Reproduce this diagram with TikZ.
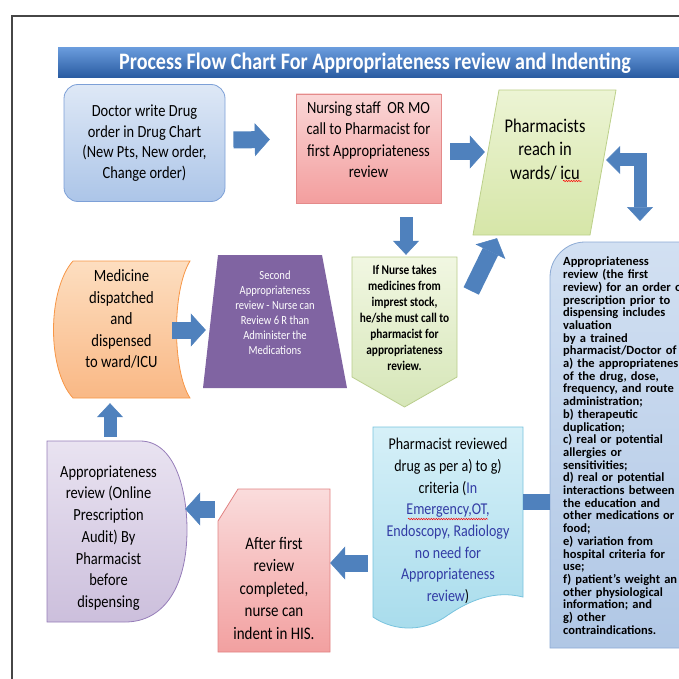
\documentclass[tikz,border=0pt]{standalone}
\usepackage{fontspec}
\setmainfont{Carlito}[FakeStretch=0.85]
\newfontfamily\critfont{Carlito}
\usetikzlibrary{arrows.meta,decorations.pathmorphing}
\pgfdeclarelayer{background}
\pgfsetlayers{background,main}
\definecolor{framegray}{RGB}{70,70,70}
\definecolor{barTop}{RGB}{105,155,220}
\definecolor{barBot}{RGB}{40,90,160}
\definecolor{docTop}{RGB}{222,232,246}
\definecolor{docBot}{RGB}{172,197,232}
\definecolor{docEdge}{RGB}{125,160,215}
\definecolor{nurseTop}{RGB}{250,214,214}
\definecolor{nurseBot}{RGB}{243,158,158}
\definecolor{nurseEdge}{RGB}{228,138,138}
\definecolor{pharmTop}{RGB}{236,244,212}
\definecolor{pharmBot}{RGB}{214,230,168}
\definecolor{pharmEdge}{RGB}{188,208,138}
\definecolor{critTop}{RGB}{210,224,242}
\definecolor{critBot}{RGB}{176,199,229}
\definecolor{critEdge}{RGB}{140,170,212}
\definecolor{stockTop}{RGB}{241,247,226}
\definecolor{stockBot}{RGB}{214,230,184}
\definecolor{stockEdge}{RGB}{185,205,140}
\definecolor{secondFill}{RGB}{128,100,162}
\definecolor{dispTop}{RGB}{253,222,192}
\definecolor{dispBot}{RGB}{249,184,133}
\definecolor{dispEdge}{RGB}{247,150,70}
\definecolor{auditTop}{RGB}{233,227,241}
\definecolor{auditBot}{RGB}{204,191,220}
\definecolor{auditEdge}{RGB}{150,125,185}
\definecolor{indentTop}{RGB}{250,220,220}
\definecolor{indentBot}{RGB}{242,160,160}
\definecolor{indentEdge}{RGB}{225,130,130}
\definecolor{revTop}{RGB}{214,240,248}
\definecolor{revBot}{RGB}{168,220,236}
\definecolor{revEdge}{RGB}{120,195,222}
\definecolor{revText}{RGB}{50,60,165}
\definecolor{arrowBlue}{RGB}{79,129,189}
\tikzstyle{boxtext}=[align=center, inner sep=0pt]
\tikzstyle{title text}=[boxtext, text=white, font={\fontsize{23.6}{26}\selectfont\bfseries}]
\tikzstyle{docbox}=[boxtext, draw=docEdge, line width=0.8pt, rounded corners=14pt, top color=docTop, bottom color=docBot, minimum width=161pt, minimum height=117pt, font={\fontsize{17}{20.5}\selectfont}]
\tikzstyle{flow}=[draw=arrowBlue, line width=17pt, -{Triangle[length=15pt,width=33pt,line width=0.5pt]}]
\tikzstyle{small flow}=[draw=arrowBlue, line width=13pt, -{Triangle[length=14pt,width=26pt,line width=0.5pt]}]
\tikzstyle{flow bar}=[draw=arrowBlue, line width=16pt]
\tikzstyle{spell}=[draw=red, line width=0.5pt, decorate, decoration={snake, amplitude=0.7pt, segment length=2.5pt}]

\begin{document}
\begin{tikzpicture}[x=1pt,y=-1pt]
    \useasboundingbox (0,0) rectangle (678,679);
    % frame and title bar
    \draw[framegray, line width=1.6pt] (12,690) -- (12,16) -- (690,16);
    \shade[top color=barTop, bottom color=barBot] (58,48) rectangle (690,78);
    \node[title text] (title) at (375,63) {Process Flow Chart For Appropriateness review and Indenting};

    % the boxes
    \node[docbox] (doc) at (144.5,143) {Doctor write Drug\\order in Drug Chart\\(New Pts, New order,\\Change order)};
    \node[boxtext, minimum width=145pt, minimum height=109pt, font={\fontsize{17}{21.5}\selectfont}] (nurse) at (368.5,139.5) {Nursing staff~ OR MO\\call to Pharmacist for\\first Appropriateness\\review};
    \node[boxtext, minimum width=114pt, minimum height=145pt, font={\fontsize{19.4}{23.5}\selectfont}] (pharm) at (545,149.5) {Pharmacists\\reach in\\wards/ icu};
    \node[boxtext, anchor=north west, align=left, text width=135pt, font={\critfont\fontsize{12.5}{12.7}\selectfont\bfseries}] (crit) at (563,257) {Appropriateness\\review (the first\\review) for an order o\\prescription prior to\\dispensing includes\\valuation\\by a trained\\pharmacist/Doctor of\\a) the appropriatenes\\of the drug, dose,\\frequency, and route\\administration;\\b) therapeutic\\duplication;\\c) real or potential\\allergies or\\sensitivities;\\d) real or potential\\interactions between\\the education and\\other medications or\\food;\\e) variation from\\hospital criteria for\\use;\\f) patient’s weight an\\other physiological\\information; and\\g) other\\contraindications.};
    \node[boxtext, minimum width=105pt, minimum height=120pt, font={\fontsize{13.3}{16}\selectfont\bfseries}] (stock) at (404.5,318) {If Nurse takes\\medicines from\\imprest stock,\\he/she must call to\\pharmacist for\\appropriateness\\review.};
    \node[boxtext, text=white, minimum width=131pt, minimum height=133pt, font={\fontsize{12.4}{15}\selectfont}] (second) at (275,312.5) {Second\\Appropriateness\\review - Nurse can\\Review 6 R than\\Administer the\\Medications};
    \node[boxtext, minimum width=137pt, minimum height=137pt, font={\fontsize{17.2}{21.5}\selectfont}] (disp) at (121.5,319) {Medicine\\dispatched\\and\\dispensed\\to ward/ICU};
    \node[boxtext, minimum width=123pt, minimum height=181pt, font={\fontsize{17}{21.7}\selectfont}] (audit) at (108.5,538) {Appropriateness\\review (Online\\Prescription\\Audit) By\\Pharmacist\\before\\dispensing};
    \node[boxtext, minimum width=112pt, minimum height=163pt, font={\fontsize{17.6}{22.5}\selectfont}] (indent) at (274,588) {After first\\review\\completed,\\nurse can\\indent in HIS.};
    \node[boxtext, minimum width=150pt, minimum height=183pt, font={\fontsize{16.5}{21.7}\selectfont}] (reviewed) at (448,521) {Pharmacist reviewed\\drug as per a) to g)\\criteria ({\color{revText}In}\\{\color{revText}Emergency,OT,}\\{\color{revText}Endoscopy, Radiology}\\{\color{revText}no need for}\\{\color{revText}Appropriateness}\\{\color{revText}review})};

    % outlines of the boxes
    \begin{pgfonlayer}{background}
        \shadedraw[top color=nurseTop, bottom color=nurseBot, draw=nurseEdge, line width=0.8pt] (296,94) rectangle (441,203);
        \shadedraw[top color=pharmTop, bottom color=pharmBot, draw=pharmEdge, line width=0.8pt] (499,90) -- (616,90) -- (590,235) -- (473,235) -- cycle;
        \shadedraw[top color=critTop, bottom color=critBot, draw=critEdge, line width=0.8pt] (550,648) -- (550,277) .. controls (550,258) and (566,242) .. (585,242) -- (690,242) -- (690,648) -- cycle;
        \shadedraw[top color=stockTop, bottom color=stockBot, draw=stockEdge, line width=0.8pt] (352,257) -- (457,257) -- (457,377) -- (404.5,407) -- (352,377) -- cycle;
        \fill[secondFill] (218,255) -- (322,255) -- (347,388) -- (203,388) -- cycle;
        \shadedraw[top color=dispTop, bottom color=dispBot, draw=dispEdge, line width=0.8pt] (73,261) -- (190,261) .. controls (172,290) and (172,370) .. (190,398) -- (73,398) .. controls (47,370) and (47,290) .. (73,261);
        \shadedraw[top color=auditTop, bottom color=auditBot, draw=auditEdge, line width=0.8pt] (47,441) -- (140,441) .. controls (175,441) and (187,490) .. (187,530) .. controls (187,585) and (165,622) .. (125,622) -- (47,622) -- cycle;
        \shadedraw[top color=indentTop, bottom color=indentBot, draw=indentEdge, line width=0.8pt] (238,489) -- (330,489) -- (330,652) -- (218,652) -- (218,521) -- cycle;
        \shadedraw[top color=revTop, bottom color=revBot, draw=revEdge, line width=0.8pt] (373,427) -- (523,427) -- (523,597) .. controls (495,590) and (470,600) .. (448,615) .. controls (425,632) and (395,632) .. (373,617) -- cycle;
    \end{pgfonlayer}

    % spell check marks
    \draw[spell] ([xshift=18pt,yshift=-31.5pt]pharm.center) -- ([xshift=37pt,yshift=-31.5pt]pharm.center);
    \draw[spell] ([xshift=-40pt,yshift=2pt]reviewed.center) -- ([xshift=40pt,yshift=2pt]reviewed.center);

    % block arrows between the boxes
    \path[flow] ([xshift=8pt,yshift=3pt]doc.east) -- ([xshift=-26pt]nurse.west);
    \path[flow] ([xshift=9pt,yshift=-12.5pt]nurse.east) -- ([xshift=-3pt,yshift=-2.5pt]pharm.west);
    \path[flow] ([xshift=14pt,yshift=27pt]stock.east) -- ([xshift=-48pt,yshift=-16pt]pharm.south);
    \path[flow] ([xshift=-18pt,yshift=-11pt]disp.east) -- ([xshift=-3.5pt,yshift=-17.5pt]second.west);
    \path[flow] ([xshift=-3pt,yshift=79pt]indent.west) -- ([xshift=15pt,yshift=29pt]audit.east);
    \path[flow] ([xshift=-5pt,yshift=-42pt]reviewed.west) -- ([yshift=25pt]indent.east);
    \path[small flow] ([xshift=37.5pt,yshift=-23pt]nurse.south) -- ([xshift=1.5pt,yshift=3pt]stock.north);
    \path[small flow] ([xshift=1.5pt,yshift=10.5pt]audit.north) -- ([xshift=-11.5pt,yshift=-15.5pt]disp.south);
    \path[small flow, {Triangle[length=14pt,width=28pt,line width=0.5pt]}-{Triangle[length=14pt,width=26pt,line width=0.5pt]}] ([xshift=4pt,yshift=-10.5pt]pharm.east) -| ([xshift=77pt,yshift=36pt]crit.north west);
    \path[flow bar] ([xshift=-13pt,yshift=-245pt]crit.north west) -- ([yshift=19pt]reviewed.east);
\end{tikzpicture}
\end{document}
